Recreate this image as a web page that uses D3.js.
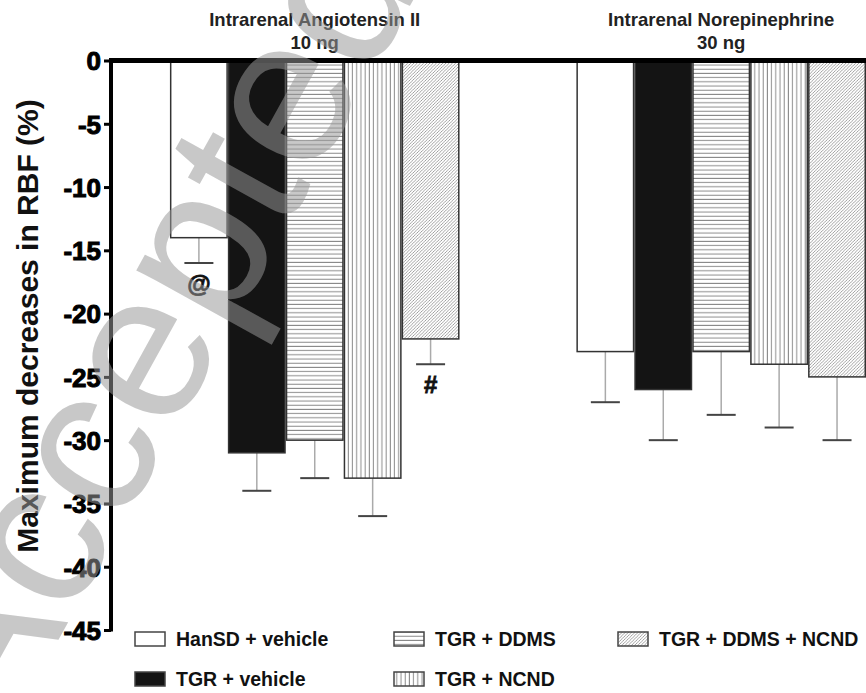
<!DOCTYPE html>
<html>
<head>
<meta charset="utf-8">
<script src="https://cdn.jsdelivr.net/npm/d3@7"></script>
<style>
  html, body { margin: 0; padding: 0; background: #fff; }
  svg { display: block; }
  text { font-family: "Liberation Sans", Arial, Helvetica, sans-serif; }
</style>
</head>
<body>
<svg id="chart" width="866" height="693"></svg>
<script>
// ---------------- data ----------------
const groupTitles = ["Intrarenal Angiotensin II", "Intrarenal Norepinephrine"];
const groupDoses  = ["10 ng", "30 ng"];
const seriesNames = ["HanSD + vehicle", "TGR + vehicle", "TGR + DDMS", "TGR + NCND", "TGR + DDMS + NCND"];
const angIIValues = [-14, -31, -30, -33, -22];
const angIIErrors = [2, 3, 3, 3, 2];
const angIIMarks  = ["@", "", "", "", "#"];
const norepiValues = [-23, -26, -23, -24, -25];
const norepiErrors = [4, 4, 5, 5, 5];
const norepiMarks  = ["", "", "", "", ""];
const yTicks = [0, -5, -10, -15, -20, -25, -30, -35, -40, -45];
const yLabel = "Maximum decreases in RBF (%)";
const watermark = "Accepted";

// ---------------- setup ----------------
const svg = d3.select("#chart");
const W = 866, H = 693;
const axisX = 111, y0px = 60.5, yBottom = 630;

const groupData = groupTitles.map((t, gi) => ({
  title: t,
  dose: groupDoses[gi],
  values: gi === 0 ? angIIValues : norepiValues,
  errors: gi === 0 ? angIIErrors : norepiErrors,
  marks: gi === 0 ? angIIMarks : norepiMarks
}));

const y = d3.scaleLinear().domain([0, -45]).range([y0px, yBottom]);
const xGroup = d3.scaleBand().domain(groupTitles).range([axisX, W])
  .paddingInner(0.2875).paddingOuter(0.0725).align(1);
const xSeries = d3.scaleBand().domain(seriesNames).range([0, xGroup.bandwidth()]).padding(0);

// ---------------- patterns ----------------
const defs = svg.append("defs");
const ph = defs.append("pattern").attr("id", "hstripe").attr("patternUnits", "userSpaceOnUse")
  .attr("width", 8).attr("height", 4.2);
ph.append("rect").attr("width", 8).attr("height", 4.2).attr("fill", "#fff");
ph.append("line").attr("x1", 0).attr("x2", 8).attr("y1", 2).attr("y2", 2)
  .attr("stroke", "#8a8a8a").attr("stroke-width", 1);

const pv = defs.append("pattern").attr("id", "vstripe").attr("patternUnits", "userSpaceOnUse")
  .attr("width", 4.2).attr("height", 8);
pv.append("rect").attr("width", 4.2).attr("height", 8).attr("fill", "#fff");
pv.append("line").attr("y1", 0).attr("y2", 8).attr("x1", 2).attr("x2", 2)
  .attr("stroke", "#8a8a8a").attr("stroke-width", 1);

const pd = defs.append("pattern").attr("id", "diag").attr("patternUnits", "userSpaceOnUse")
  .attr("width", 3.2).attr("height", 3.2);
pd.append("rect").attr("width", 3.2).attr("height", 3.2).attr("fill", "#fff");
pd.append("path").attr("d", "M0,3.2 L3.2,0 M-0.8,0.8 L0.8,-0.8 M2.4,4 L4,2.4")
  .attr("stroke", "#8c8c8c").attr("stroke-width", 0.8);

const fills = {
  "HanSD + vehicle": "#ffffff",
  "TGR + vehicle": "#141414",
  "TGR + DDMS": "url(#hstripe)",
  "TGR + NCND": "url(#vstripe)",
  "TGR + DDMS + NCND": "url(#diag)"
};

// ---------------- bars ----------------
const g = svg.append("g");
groupData.forEach(gd => {
  const gx = xGroup(gd.title);
  const gg = g.append("g").attr("transform", `translate(${gx},0)`);
  const rows = seriesNames.map((s, i) => ({ s, v: gd.values[i], e: gd.errors[i], m: gd.marks[i] }));

  gg.selectAll(".stem").data(rows).join("line")
    .attr("x1", d => xSeries(d.s) + xSeries.bandwidth() / 2)
    .attr("x2", d => xSeries(d.s) + xSeries.bandwidth() / 2)
    .attr("y1", d => y(d.v)).attr("y2", d => y(d.v - d.e))
    .attr("stroke", "#aaaaaa").attr("stroke-width", 1.5);
  gg.selectAll(".cap").data(rows).join("line")
    .attr("x1", d => xSeries(d.s) + xSeries.bandwidth() / 2 - 14.5)
    .attr("x2", d => xSeries(d.s) + xSeries.bandwidth() / 2 + 14.5)
    .attr("y1", d => y(d.v - d.e)).attr("y2", d => y(d.v - d.e))
    .attr("stroke", "#444").attr("stroke-width", 2);

  gg.selectAll(".bar").data(rows).join("rect")
    .attr("x", d => xSeries(d.s) + 0.75)
    .attr("width", xSeries.bandwidth() - 1.5)
    .attr("y", y(0))
    .attr("height", d => y(d.v) - y(0))
    .attr("fill", d => fills[d.s])
    .attr("stroke", "#333").attr("stroke-width", 1.5);

  gg.selectAll(".mark").data(rows.filter(d => d.m)).join("text")
    .attr("x", d => xSeries(d.s) + xSeries.bandwidth() / 2)
    .attr("y", d => y(d.v - d.e) + 29)
    .attr("text-anchor", "middle")
    .style("font-size", "24px").style("font-weight", "bold")
    .attr("fill", "#111").attr("stroke", "#111").attr("stroke-width", 0.8)
    .text(d => d.m);

  const cx = gx + xGroup.bandwidth() / 2;
  g.append("text").attr("x", cx).attr("y", 26).attr("text-anchor", "middle")
    .style("font-size", "18.5px").style("font-weight", "bold").attr("fill", "#222").text(gd.title);
  g.append("text").attr("x", cx).attr("y", 49).attr("text-anchor", "middle")
    .style("font-size", "18.5px").style("font-weight", "bold").attr("fill", "#222").text(gd.dose);
});

// ---------------- axes ----------------
svg.append("line").attr("x1", axisX).attr("x2", W).attr("y1", y(0)).attr("y2", y(0))
  .attr("stroke", "#000").attr("stroke-width", 5);

const yAxis = d3.axisLeft(y).tickValues(yTicks).tickSize(7).tickPadding(3).tickFormat(d => String(d));
const ya = svg.append("g").attr("transform", `translate(${axisX},0)`).call(yAxis);
ya.attr("font-family", null).attr("font-size", null);
ya.select(".domain").attr("stroke", "#000").attr("stroke-width", 4)
  .attr("d", `M0,${y(0) - 2.5}V${y(-45) + 1.5}`);
ya.selectAll(".tick line").attr("stroke", "#000").attr("stroke-width", 3);
ya.selectAll(".tick text")
  .style("font-size", "26px").style("font-weight", "bold")
  .style("font-family", "'Liberation Sans', Arial, sans-serif")
  .attr("fill", "#000").attr("stroke", "#000").attr("stroke-width", 1)
  .attr("dy", "0.36em");

svg.append("text").attr("transform", `translate(38,326) rotate(-90)`)
  .attr("text-anchor", "middle").style("font-size", "30px").style("font-weight", "bold")
  .attr("fill", "#111").text(yLabel);

// ---------------- legend ----------------
const legCols = [135, 394, 618];
const legRows = [632, 672];
const leg = svg.append("g");
seriesNames.forEach((s, i) => {
  const lx = legCols[Math.floor(i / 2)], ly = legRows[i % 2];
  leg.append("rect").attr("x", lx).attr("y", ly).attr("width", 30).attr("height", 14)
    .attr("fill", fills[s]).attr("stroke", "#444").attr("stroke-width", 1.5);
  leg.append("text").attr("x", lx + 41).attr("y", ly + 14)
    .style("font-size", "19.5px").style("font-weight", "bold").attr("fill", "#111").text(s);
});

// ---------------- watermark ----------------
svg.append("text").attr("transform", "translate(165,335) rotate(-61)")
  .attr("text-anchor", "middle").attr("dy", "0.26em")
  .style("font-size", "210px")
  .attr("fill", "#989898").attr("fill-opacity", 0.53)
  .text(watermark);
</script>
</body>
</html>
